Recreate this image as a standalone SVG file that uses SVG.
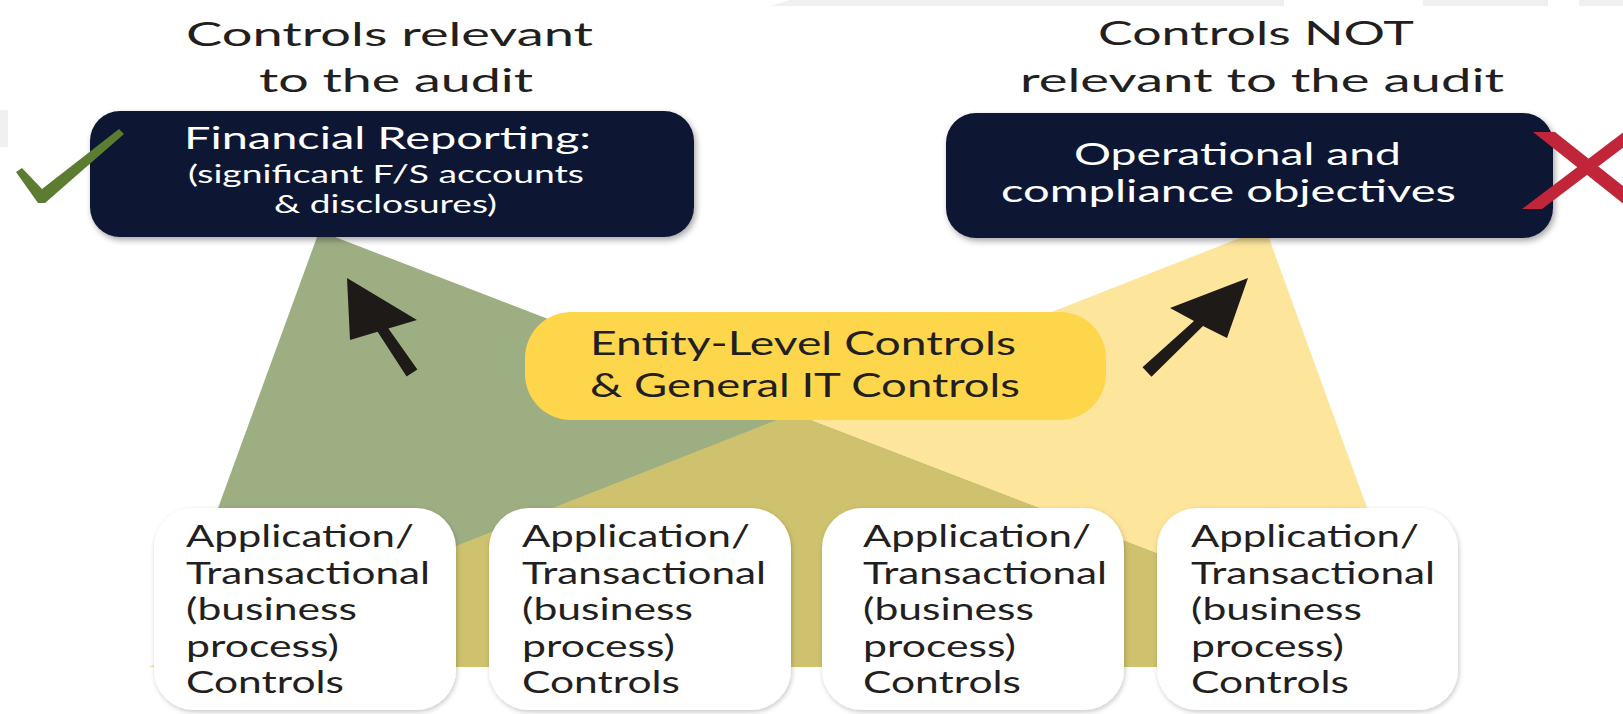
<svg xmlns="http://www.w3.org/2000/svg" width="1623" height="714" viewBox="0 0 1623 714">
  <defs>
    <filter id="shadow" x="-10%" y="-10%" width="120%" height="130%">
      <feDropShadow dx="2" dy="3" stdDeviation="3" flood-color="#000" flood-opacity="0.35"/>
    </filter>
    <filter id="softshadow" x="-10%" y="-10%" width="120%" height="120%">
      <feDropShadow dx="1" dy="2" stdDeviation="2.5" flood-color="#000" flood-opacity="0.22"/>
    </filter>
    <clipPath id="greenClip">
      <polygon points="317,237 335,237 1452,667 160,667"/>
    </clipPath>
    <style>
      .title { font-family: Lato, "Open Sans", "Liberation Sans", sans-serif; font-size: 32px; fill: #231f20; }
      .dark { fill: #0d1733; }
      .wt { font-family: Lato, "Open Sans", "Liberation Sans", sans-serif; fill: #ffffff; }
      .ent { font-family: Lato, "Open Sans", "Liberation Sans", sans-serif; font-size: 33px; fill: #231f20; }
      .app { fill: #ffffff; }
      .apt { font-family: Lato, "Open Sans", "Liberation Sans", sans-serif; font-size: 30px; fill: #231f20; }
      .arrow { fill: #1e1a17; }
    </style>
  </defs>

  <rect x="0" y="0" width="1623" height="714" fill="#ffffff"/>
  <!-- faint background artifacts -->
  <polygon points="770,6 790,0 1284,0 1284,6" fill="#f0f0f0"/>
  <rect x="1423" y="0" width="125" height="6" fill="#f0f0f0"/>
  <rect x="1579" y="0" width="44" height="6" fill="#f0f0f0"/>
  <rect x="0" y="110" width="8" height="37" fill="#f0f0f0"/>

  <!-- titles -->
  <g id="title-left">
    <text class="title" x="186" y="46" textLength="407" lengthAdjust="spacingAndGlyphs">Controls relevant</text>
    <text class="title" x="259" y="92" textLength="274" lengthAdjust="spacingAndGlyphs">to the audit</text>
  </g>
  <g id="title-right">
    <text class="title" x="1098" y="45" textLength="316" lengthAdjust="spacingAndGlyphs">Controls NOT</text>
    <text class="title" x="1020" y="92" textLength="484" lengthAdjust="spacingAndGlyphs">relevant to the audit</text>
  </g>

  <!-- coloured wedges -->
  <g id="wedges">
    <polygon id="wedge-yellow" points="1240,238 1269,238 1425,667 148,667" fill="#fde59b"/>
    <polygon id="wedge-green" points="317,237 335,237 1452,667 160,667" fill="#9eae83"/>
    <polygon id="wedge-overlap" points="1240,238 1269,238 1425,667 148,667" fill="#cfc26e" clip-path="url(#greenClip)"/>
  </g>

  <!-- top boxes -->
  <g id="financial-reporting">
    <rect class="dark" x="90" y="111" width="604" height="126" rx="30" filter="url(#shadow)"/>
    <text class="wt" x="184" y="149" font-size="31" textLength="407" lengthAdjust="spacingAndGlyphs">Financial Reporting:</text>
    <text class="wt" x="188" y="183" font-size="25" textLength="396" lengthAdjust="spacingAndGlyphs">(significant F/S accounts</text>
    <text class="wt" x="274" y="213" font-size="25" textLength="223" lengthAdjust="spacingAndGlyphs">&amp; disclosures)</text>
  </g>
  <g id="operational">
    <rect class="dark" x="946" y="113" width="607" height="125" rx="30" filter="url(#shadow)"/>
    <text class="wt" x="1074" y="165" font-size="31" textLength="327" lengthAdjust="spacingAndGlyphs">Operational and</text>
    <text class="wt" x="1001" y="202" font-size="31" textLength="455" lengthAdjust="spacingAndGlyphs">compliance objectives</text>
  </g>

  <!-- check and cross -->
  <g id="checkmark">
    <polygon points="16,172 22,168 42,189 119,129 124,134 45,203 38,203" fill="#5b7c31"/>
  </g>
  <g id="cross">
    <polygon points="1522,209 1542,209 1649,128 1629,128" fill="#c0253a"/>
    <polygon points="1533,132 1555,132 1652,209 1630,209" fill="#c0253a"/>
  </g>

  <!-- entity level box -->
  <g id="entity-level">
    <rect x="525" y="312" width="581" height="108" rx="46" fill="#fdd64c"/>
    <text class="ent" x="590" y="355" textLength="426" lengthAdjust="spacingAndGlyphs">Entity-Level Controls</text>
    <text class="ent" x="590" y="397" textLength="430" lengthAdjust="spacingAndGlyphs">&amp; General IT Controls</text>
  </g>

  <!-- connectors (arrows) -->
  <g id="connectors">
    <polygon class="arrow" points="347,278 417,320 388.4,328.5 417.4,369.4 406.6,376.6 377.6,331.8 350,340"/>
    <polygon class="arrow" points="1248,278 1227,338 1203,326 1151.5,376.7 1142.5,367.3 1194,321 1170,308"/>
  </g>

  <!-- application boxes -->
  <g id="app-1">
    <rect class="app" x="154" y="508" width="302" height="202" rx="40" filter="url(#softshadow)"/>
    <text class="apt" x="186" y="547" textLength="228" lengthAdjust="spacingAndGlyphs">Application/</text>
    <text class="apt" x="186" y="583.5" textLength="244" lengthAdjust="spacingAndGlyphs">Transactional</text>
    <text class="apt" x="186" y="620" textLength="171" lengthAdjust="spacingAndGlyphs">(business</text>
    <text class="apt" x="186" y="656.5" textLength="153" lengthAdjust="spacingAndGlyphs">process)</text>
    <text class="apt" x="186" y="693" textLength="158" lengthAdjust="spacingAndGlyphs">Controls</text>
  </g>
  <g id="app-2">
    <rect class="app" x="489" y="508" width="302" height="202" rx="40" filter="url(#softshadow)"/>
    <text class="apt" x="522" y="547" textLength="228" lengthAdjust="spacingAndGlyphs">Application/</text>
    <text class="apt" x="522" y="583.5" textLength="244" lengthAdjust="spacingAndGlyphs">Transactional</text>
    <text class="apt" x="522" y="620" textLength="171" lengthAdjust="spacingAndGlyphs">(business</text>
    <text class="apt" x="522" y="656.5" textLength="153" lengthAdjust="spacingAndGlyphs">process)</text>
    <text class="apt" x="522" y="693" textLength="158" lengthAdjust="spacingAndGlyphs">Controls</text>
  </g>
  <g id="app-3">
    <rect class="app" x="822" y="508" width="302" height="202" rx="40" filter="url(#softshadow)"/>
    <text class="apt" x="863" y="547" textLength="228" lengthAdjust="spacingAndGlyphs">Application/</text>
    <text class="apt" x="863" y="583.5" textLength="244" lengthAdjust="spacingAndGlyphs">Transactional</text>
    <text class="apt" x="863" y="620" textLength="171" lengthAdjust="spacingAndGlyphs">(business</text>
    <text class="apt" x="863" y="656.5" textLength="153" lengthAdjust="spacingAndGlyphs">process)</text>
    <text class="apt" x="863" y="693" textLength="158" lengthAdjust="spacingAndGlyphs">Controls</text>
  </g>
  <g id="app-4">
    <rect class="app" x="1157" y="508" width="301" height="202" rx="40" filter="url(#softshadow)"/>
    <text class="apt" x="1191" y="547" textLength="228" lengthAdjust="spacingAndGlyphs">Application/</text>
    <text class="apt" x="1191" y="583.5" textLength="244" lengthAdjust="spacingAndGlyphs">Transactional</text>
    <text class="apt" x="1191" y="620" textLength="171" lengthAdjust="spacingAndGlyphs">(business</text>
    <text class="apt" x="1191" y="656.5" textLength="153" lengthAdjust="spacingAndGlyphs">process)</text>
    <text class="apt" x="1191" y="693" textLength="158" lengthAdjust="spacingAndGlyphs">Controls</text>
  </g>
</svg>
